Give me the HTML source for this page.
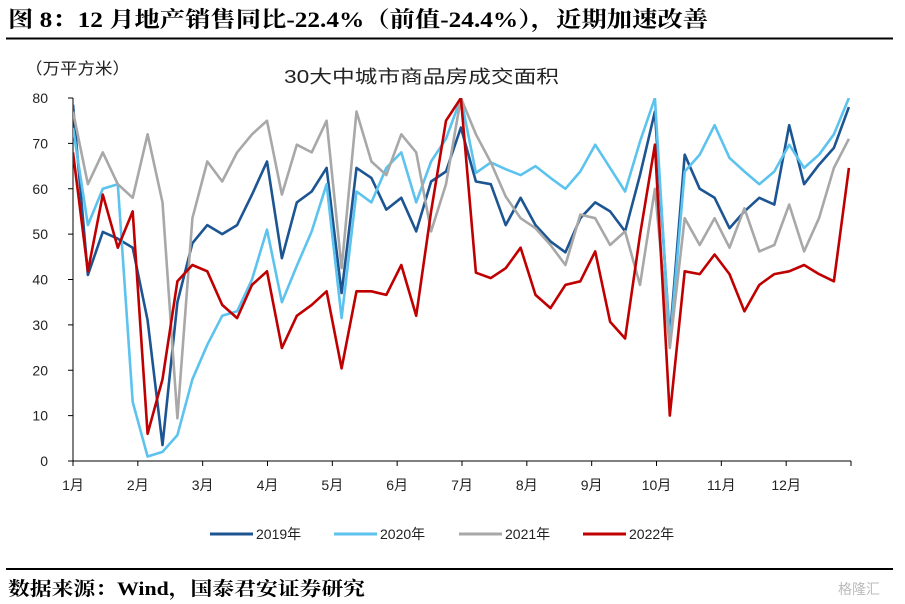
<!DOCTYPE html>
<html><head><meta charset="utf-8">
<style>
body{margin:0;background:#fff;width:905px;height:604px;overflow:hidden;font-family:"Liberation Sans","Noto Sans CJK SC",sans-serif;}
svg{display:block}
</style></head>
<body>
<svg width="905" height="604" xmlns="http://www.w3.org/2000/svg">
<text x="8" y="27" font-family="Liberation Serif,Noto Serif CJK SC,serif" font-weight="bold" font-size="22" textLength="700" lengthAdjust="spacingAndGlyphs" fill="#000">图 8：12 月地产销售同比-22.4%（前值-24.4%），近期加速改善</text>
<line x1="6" y1="38.5" x2="893" y2="38.5" stroke="#000" stroke-width="2"/>
<text x="25" y="74" font-size="16" textLength="105" lengthAdjust="spacingAndGlyphs" fill="#222">（万平方米）</text>
<text x="284" y="83" font-size="18" textLength="275" lengthAdjust="spacingAndGlyphs" fill="#222">30大中城市商品房成交面积</text>
<g id="axes"></g>
<g id="series"></g>
<g id="legend"></g>
<line x1="6" y1="569" x2="893" y2="569" stroke="#000" stroke-width="2"/>
<text x="8" y="595" font-family="Liberation Serif,Noto Serif CJK SC,serif" font-weight="bold" font-size="19" textLength="357" lengthAdjust="spacingAndGlyphs" fill="#000">数据来源：Wind，国泰君安证券研究</text>
<text x="838" y="594" font-size="14" fill="#bbb">格隆汇</text>
</svg>
<script>
const months=["1月","2月","3月","4月","5月","6月","7月","8月","9月","10月","11月","12月"];
const yTicks=[0,10,20,30,40,50,60,70,80];
const seriesNames=["2019年","2020年","2021年","2022年"];
const s2019=[78.5,41,50.5,49,47,31,3.5,35,48,52,50,52,58.7,66,44.7,57,59.4,64.6,37,64.6,62.4,55.4,58,50.6,61.6,63.8,73.5,61.6,61,52,58,52,48.4,46,53.5,57,55,50.6,63,77,27,67.5,60,58,51.3,55,58,56.5,74,61,65.3,69,78];
const s2020=[73.4,52,60,61,13,1,2,5.7,18,25.6,32,33,40,51,35,43,50.6,61,31.5,59.4,57,64.6,68,57,66,71,80,63.5,65.8,64.3,63,65,62.4,60,63.8,69.7,64.6,59.4,70.4,80,25.6,63.8,67.5,74,66.8,63.8,61,63.8,69.7,64.6,67.5,72,80];
const s2021=[77,61,68,61,58,72,57,9.4,53.5,66,61.6,68,72,75,58.7,69.7,68,75,42.5,77,66,63,72,68,50.6,61,80,72,65.8,58.3,53.5,51.3,47.6,43.2,54.3,53.5,47.6,50.6,38.8,60,24.9,53.5,47.6,53.5,47,55.7,46.2,47.6,56.5,46.2,53.5,64.6,71];
const s2022=[68,41.8,58.7,47,55,6,18,39.6,43.2,41.8,34.4,31.5,38.8,41.8,24.9,32,34.4,37.4,20.4,37.4,37.4,36.6,43.2,32,55,75,80,41.5,40.3,42.5,47,36.6,33.7,38.8,39.6,46.2,30.7,27,49.8,69.7,10,41.8,41.2,45.5,41.2,33,38.8,41.2,41.8,43.2,41.2,39.6,64.6];
const colors=["#1c5592","#5cc3ef","#a8a8a8","#c00000"];
const X0=73,X1=851,Y0=461,Y80=98;
function xIdx(i){return X0+(X1-X0)*i*7/365;}
function xMonth(m){return X0+(X1-X0)*m/12;}
function yv(v){return Y0-(Y0-Y80)*v/80;}
const NS="http://www.w3.org/2000/svg";
function mk(tag,attrs,parent){const e=document.createElementNS(NS,tag);for(const k in attrs)e.setAttribute(k,attrs[k]);parent.appendChild(e);return e;}
const ax=document.getElementById('axes');
let yl=mk('line',{x1:X0,y1:Y80,x2:X0,y2:Y0,stroke:'#000','stroke-width':1},ax);


let xl=mk('line',{x1:X0,y1:Y0,x2:X1,y2:Y0,stroke:'#000','stroke-width':1},ax);


yTicks.forEach(v=>{
  let t=mk('line',{x1:X0-5,y1:yv(v),x2:X0,y2:yv(v),stroke:'#000'},ax);
  
  
  let l=mk('text',{x:48,y:yv(v)+5,'text-anchor':'end','font-size':14,fill:'#222'},ax);
  l.textContent=v;
  
  
});
for(let m=0;m<=12;m++){
  let t=mk('line',{x1:xMonth(m),y1:Y0,x2:xMonth(m),y2:Y0+5,stroke:'#000'},ax);
  
  
}
months.forEach((m,i)=>{
  let l=mk('text',{x:xMonth(i),y:490,'text-anchor':'middle','font-size':14,fill:'#222'},ax);
  l.textContent=m;
  
  
});
const sg=document.getElementById('series');
const cp=mk('clipPath',{id:'clp'},sg);
mk('rect',{x:X0,y:Y80,width:X1-X0+2,height:Y0-Y80},cp);
[s2019,s2020,s2021,s2022].forEach((arr,k)=>{
  const pts=arr.map((v,i)=>xIdx(i).toFixed(1)+','+yv(v).toFixed(1)).join(' ');
  let p=mk('polyline',{points:pts,fill:'none',stroke:colors[k],'stroke-width':2.6,'stroke-linejoin':'round','clip-path':'url(#clp)'},sg);
  
  
});
const lg=document.getElementById('legend');
const lx=[210,334,459,583];
seriesNames.forEach((n,k)=>{
  let l=mk('line',{x1:lx[k],y1:534,x2:lx[k]+43,y2:534,stroke:colors[k],'stroke-width':3},lg);
  
  
  let t=mk('text',{x:lx[k]+46,y:539,'font-size':14,fill:'#222'},lg);
  t.textContent=n;
  
  
});
</script>
</body></html>
